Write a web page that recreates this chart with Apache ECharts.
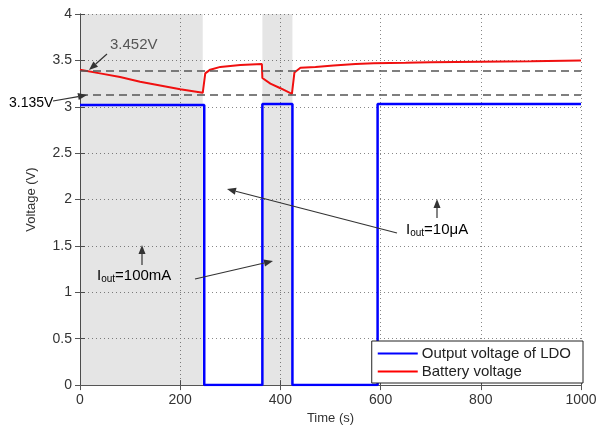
<!DOCTYPE html>
<html>
<head>
<meta charset="utf-8">
<script src="https://cdn.jsdelivr.net/npm/echarts@6/dist/echarts.min.js"></script>
<style>
html, body { margin: 0; padding: 0; background: #fff; }
#main { width: 603px; height: 430px; }
</style>
</head>
<body>
<div id="main"></div>
<script>
// LDO output (step waveform)
var ldoTime = [0, 248, 248, 364, 364, 424, 424, 594, 594, 1000];
var ldoVolt = [3.02, 3.02, 0, 0, 3.03, 3.03, 0, 0, 3.03, 3.03];

// battery voltage
var batTime = [0, 40, 80, 120, 160, 200, 245, 246, 250, 260, 280, 320, 363, 364, 380, 400, 423, 424, 428, 440, 470, 506, 550, 586, 650, 700, 800, 900, 1000];
var batVolt = [3.40, 3.36, 3.32, 3.27, 3.23, 3.19, 3.15, 3.15, 3.36, 3.40, 3.43, 3.45, 3.46, 3.31, 3.25, 3.20, 3.14, 3.14, 3.37, 3.42, 3.43, 3.445, 3.46, 3.47, 3.475, 3.48, 3.485, 3.49, 3.50];

var loadBands = [[0, 245], [364, 424]];
var refLevels = [3.39, 3.135];

function pairs(t, v) {
	var out = [];
	for (var i = 0; i < t.length; i++) {
		out.push([t[i], v[i]]);
	}
	return out;
}

function arrow(x1, y1, x2, y2) {
	var a = Math.atan2(y2 - y1, x2 - x1);
	var L = 9, W = 3.5;
	var bx = x2 - L * Math.cos(a), by = y2 - L * Math.sin(a);
	var px = -Math.sin(a) * W, py = Math.cos(a) * W;
	return [
		{ type: 'line', shape: { x1: x1, y1: y1, x2: bx, y2: by }, style: { stroke: '#333', lineWidth: 1.2 }, z: 100 },
		{ type: 'polygon', shape: { points: [[x2, y2], [bx + px, by + py], [bx - px, by - py]] }, style: { fill: '#333' }, z: 100 }
	];
}

var ioutRich = {
	n: { fontSize: 15, color: '#555', fontFamily: 'Liberation Sans' },
	s: { fontSize: 10, color: '#555', fontFamily: 'Liberation Sans', padding: [8, 0, 0, 0] }
};

var graphics = [].concat(
	arrow(107, 54, 89, 70),
	arrow(53, 101, 87, 95),
	arrow(397, 233, 227, 189),
	arrow(437, 218, 437, 199),
	arrow(195, 279, 273, 261),
	arrow(142, 265, 142, 245),
	[
		{ type: 'text', left: 110, top: 37, style: { text: '3.452V', fontSize: 15, fill: '#555', fontFamily: 'Liberation Sans' }, z: 100 },
		{ type: 'text', left: 9, top: 96, style: { text: '3.135V', fontSize: 14, fill: '#000', fontFamily: 'Liberation Sans' }, z: 100 },
		{ type: 'text', left: 406, top: 222, style: { text: '{n|I}{s|out}{n|=10\u03bcA}', rich: ioutRich }, z: 100 },
		{ type: 'text', left: 97, top: 268, style: { text: '{n|I}{s|out}{n|=100mA}', rich: ioutRich }, z: 100 }
	]
);

var axisFont = { color: '#333', fontSize: 14, fontFamily: 'Liberation Sans' };

var myChart = echarts.init(document.getElementById('main'));
var option = {
	animation: false,
	grid: { left: 80, right: 22, top: 14, bottom: 41 },
	legend: {
		orient: 'vertical',
		right: 20,
		bottom: 47,
		backgroundColor: '#fff',
		borderColor: '#222',
		borderWidth: 1,
		padding: [5, 12, 4, 6],
		itemGap: 3,
		itemWidth: 40,
		itemHeight: 2,
		icon: 'rect',
		textStyle: { color: '#222', fontSize: 15, fontFamily: 'Liberation Sans', padding: [0, 0, 0, -1] },
		data: ['Output voltage of LDO', 'Battery voltage']
	},
	xAxis: [{
		type: 'value', min: 0, max: 1000, interval: 200,
		name: 'Time (s)', nameLocation: 'middle', nameGap: 22,
		nameTextStyle: { color: '#333', fontSize: 13, fontFamily: 'Liberation Sans' },
		axisLine: { lineStyle: { color: '#555' } },
		axisTick: { inside: true, length: 5, lineStyle: { color: '#555' } },
		axisLabel: { color: '#333', fontSize: 14, fontFamily: 'Liberation Sans', formatter: function (v) { return String(v); } },
		splitLine: { show: true, lineStyle: { color: '#888', type: [1, 3] } }
	}, {
		type: 'value', min: 0, max: 1000, interval: 200, position: 'top',
		axisLine: { show: true, lineStyle: { color: '#555' } },
		axisTick: { inside: true, length: 5, lineStyle: { color: '#555' } },
		axisLabel: { show: false }, splitLine: { show: false }
	}],
	yAxis: [{
		type: 'value', min: 0, max: 4, interval: 0.5,
		name: 'Voltage (V)', nameLocation: 'middle', nameGap: 42,
		nameTextStyle: { color: '#333', fontSize: 13, fontFamily: 'Liberation Sans' },
		axisLine: { show: true, lineStyle: { color: '#555' } },
		axisTick: { show: true, inside: true, length: 5, lineStyle: { color: '#555' } },
		axisLabel: axisFont,
		splitLine: { show: true, lineStyle: { color: '#888', type: [1, 3] } }
	}, {
		type: 'value', min: 0, max: 4, interval: 0.5, position: 'right',
		axisLine: { show: true, lineStyle: { color: '#555' } },
		axisTick: { show: true, inside: true, length: 5, lineStyle: { color: '#555' } },
		axisLabel: { show: false }, splitLine: { show: false }
	}],
	series: [{
		name: 'Output voltage of LDO',
		type: 'line',
		data: pairs(ldoTime, ldoVolt),
		showSymbol: false,
		color: '#0000ff',
		lineStyle: { color: '#0000ff', width: 2.5 },
		z: 3,
		markArea: {
			silent: true,
			itemStyle: { color: 'rgba(0,0,0,0.1)' },
			data: loadBands.map(function (b) { return [{ xAxis: b[0] }, { xAxis: b[1] }]; })
		}
	}, {
		name: 'Battery voltage',
		type: 'line',
		data: pairs(batTime, batVolt),
		showSymbol: false,
		color: '#ff0000',
		lineStyle: { color: '#f01010', width: 2 },
		z: 4,
		markLine: {
			silent: true,
			symbol: 'none',
			label: { show: false },
			lineStyle: { color: '#555', type: [8, 5], width: 1.5 },
			data: refLevels.map(function (v) { return { yAxis: v }; })
		}
	}],
	graphic: graphics
};
myChart.setOption(option);
</script>
</body>
</html>
